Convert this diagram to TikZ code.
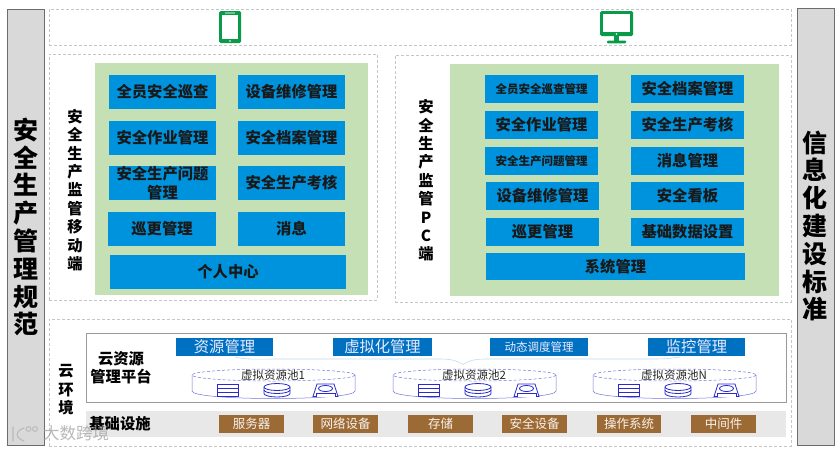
\documentclass[tikz,border=0pt]{standalone}
\usepackage{fontspec}
\setmainfont{Noto Sans CJK SC}
\definecolor{bluebox}{HTML}{0093DD}
\definecolor{greenbg}{HTML}{C5E0B4}
\definecolor{barfill}{HTML}{D9D9D9}
\definecolor{cloudblue}{HTML}{0070C0}
\definecolor{brownbox}{HTML}{9C6A35}
\definecolor{iconblue}{HTML}{2A2ACF}
\definecolor{poolline}{HTML}{6F74D8}
\definecolor{devgreen}{HTML}{0A9B4A}
\tikzset{
  x=1pt,y=-1pt,
  every node/.style={inner sep=0pt,outer sep=0pt,align=center},
  zone/.style={draw=gray!45,densely dashed,line width=.5pt},
  sidebar/.style={draw=gray!85!black,fill=barfill,line width=.8pt},
  greenpanel/.style={fill=greenbg},
  bigtxt/.style={font=\fontsize{25}{27.8}\selectfont\bfseries},
  midtxt/.style={font=\fontsize{15.3}{18.4}\selectfont\bfseries},
  smalltxt/.style={font=\fontsize{11.5}{14}\selectfont\bfseries},
  bbox/.style={fill=bluebox,text=black!90,midtxt},
  sbox/.style={fill=bluebox,text=black!90,smalltxt},
  cbar/.style={fill=cloudblue,text=blue!8!white,font=\fontsize{15.3}{18}\selectfont},
  csbar/.style={fill=cloudblue,text=blue!8!white,font=\fontsize{11.5}{14}\selectfont},
  brownb/.style={fill=brownbox,text=white!90!brown,font=\fontsize{12.5}{15}\selectfont},
  pooltxt/.style={fill=white,text=black!85,font=\fontsize{11.5}{14}\selectfont},
  poolbody/.style={draw=poolline,line width=.5pt},
  poolrim/.style={draw=poolline,densely dashed,line width=.5pt},
  ico/.style={draw=iconblue,line width=.8pt,fill=white},
  device/.style={fill=devgreen},
}
\newcommand{\bx}[7]{\node[#2,minimum width={(#5-#3)*1pt},minimum height={(#6-#4)*1pt}] (#1) at ({(#3+#5)/2},{(#4+#6)/2}) {#7};}
\newcommand{\poolat}[3]{%
  \begin{scope}[shift={(#1,0)}]
    \draw[poolbody] (0,375) -- (0,391) .. controls (0,396) and (40,398.5) .. (81.5,398.5) .. controls (123,398.5) and (163,396) .. (163,391) -- (163,375);
    \draw[poolrim] (81.5,375) ellipse [x radius=81.5,y radius=6];
    \node[pooltxt] (#2) at (81,375) {#3};
    % server
    \draw[ico] (25,384) rectangle (46,396);
    \draw[ico,line width=.6pt] (25,388) -- (46,388) (25,392) -- (46,392);
    % disk
    \draw[ico] (72,387) -- (72,393.5) arc[start angle=180,end angle=0,x radius=13,y radius=3.5] -- (98,387);
    \draw[ico] (85,387) ellipse [x radius=13,y radius=3.5];
    \draw[ico,fill=none] (72,390) arc[start angle=180,end angle=0,x radius=13,y radius=3.5];
    % router
    \draw[ico] (121,396.5) -- (125,384) -- (142,384) -- (146,396.5) -- cycle;
    \draw[ico] (133.5,388.5) ellipse [x radius=7,y radius=3];
    \draw[ico,line width=.6pt] (124,396.5) -- (124,393) -- (143,393) -- (143,396.5);
  \end{scope}}
\begin{document}
\begin{tikzpicture}
\useasboundingbox (0,0) rectangle (837,450);
% side bars
\bx{lbar}{sidebar}{7}{9}{44}{445}{}
\bx{rbar}{sidebar}{797}{8}{834}{445}{}
\node[bigtxt] (ltxt) at (26,227) {安\\全\\生\\产\\管\\理\\规\\范};
\node[bigtxt] (rtxt) at (815,226) {信\\息\\化\\建\\设\\标\\准};
% zones
\bx{ztop}{zone}{49}{9}{791}{45}{}
\bx{zleft}{zone}{49}{54}{377}{300}{}
\bx{zright}{zone}{395}{55}{791}{302}{}
\bx{zcloud}{zone}{49}{319}{791}{446}{}
% device icons
\fill[device,rounded corners=1.5pt] (219,11) rectangle (241,43);
\fill[white] (222,14.5) rectangle (238,39);
\fill[devgreen!60] (225,12.3) rectangle (235,13.5);
\fill[white] (230,41) circle (.9);
\fill[device,rounded corners=1.5pt] (600,11) rectangle (633,36);
\fill[white] (603,14) rectangle (630,32);
\fill[white] (616.5,34) circle (.9);
\fill[device] (614,36) rectangle (619,41);
\fill[device,rounded corners=1pt] (607,40.5) rectangle (626,43.3);
% mobile panel
\bx{gleft}{greenpanel}{95}{63}{368}{295}{}
\node[midtxt] (mlabel) at (75,190) {安\\全\\生\\产\\监\\管\\移\\动\\端};
\bx{m1}{bbox}{109}{75}{216}{109}{全员安全巡查}
\bx{m2}{bbox}{238}{75}{345}{109}{设备维修管理}
\bx{m3}{bbox}{109}{121}{216}{155}{安全作业管理}
\bx{m4}{bbox}{238}{121}{345}{155}{安全档案管理}
\bx{m5}{bbox}{109}{166}{216}{200}{安全生产问题\\管理}
\bx{m6}{bbox}{238}{166}{345}{200}{安全生产考核}
\bx{m7}{bbox}{108}{212}{216}{246}{巡更管理}
\bx{m8}{bbox}{238}{212}{345}{246}{消息}
\bx{m9}{bbox}{110}{255}{346}{289}{个人中心}
% pc panel
\bx{gright}{greenpanel}{450}{64}{779}{296}{}
\node[midtxt] (plabel) at (426,180.5) {安\\全\\生\\产\\监\\管\\P\\C\\端};
\bx{p1}{sbox}{485}{75}{598}{103}{全员安全巡查管理}
\bx{p2}{bbox}{631}{75}{744}{103}{安全档案管理}
\bx{p3}{bbox}{485}{111}{598}{139}{安全作业管理}
\bx{p4}{bbox}{631}{111}{744}{139}{安全生产考核}
\bx{p5}{sbox}{485}{147}{598}{175}{安全生产问题管理}
\bx{p6}{bbox}{631}{147}{744}{175}{消息管理}
\bx{p7}{bbox}{486}{182}{599}{210}{设备维修管理}
\bx{p8}{bbox}{631}{182}{744}{210}{安全看板}
\bx{p9}{bbox}{486}{218}{599}{246}{巡更管理}
\bx{p10}{bbox}{631}{218}{744}{246}{基础数据设置}
\bx{p11}{bbox}{486}{253}{745}{280}{系统管理}
% cloud
\node[midtxt] (clabel) at (66,390) {云\\环\\境};
\bx{cpanel}{draw=gray!80,line width=.6pt}{86}{333}{786}{402}{}
\node[midtxt] (cplat) at (121,368) {云资源\\管理平台};
\draw[cloudblue!25,line width=.6pt] (235,357) .. controls (245,360) and (260,359) .. (275,359) -- (440,359) .. controls (452,359) and (458,361) .. (463,364.5) .. controls (468,361) and (474,359) .. (486,359) -- (650,359) .. controls (660,359) and (668,359) .. (680,357);
\bx{c1}{cbar}{176}{338}{273}{356}{资源管理}
\bx{c2}{cbar}{333}{338}{432}{356}{虚拟化管理}
\bx{c3}{csbar}{490}{338}{588}{356}{动态调度管理}
\bx{c4}{cbar}{648}{338}{745}{356}{监控管理}
\poolat{192}{pool1}{虚拟资源池1}
\poolat{393}{pool2}{虚拟资源池2}
\poolat{593}{pool3}{虚拟资源池N}
% infrastructure
\bx{infra}{fill=black!9}{86}{411}{786}{437}{}
\node[midtxt] (ilabel) at (120,423.5) {基础设施};
\bx{b1}{brownb}{219}{415}{284}{433}{服务器}
\bx{b2}{brownb}{313}{415}{378}{433}{网络设备}
\bx{b3}{brownb}{408}{415}{473}{433}{存储}
\bx{b4}{brownb}{502}{415}{567}{433}{安全设备}
\bx{b5}{brownb}{597}{415}{661}{433}{操作系统}
\bx{b6}{brownb}{691}{415}{756}{433}{中间件}
% watermark
\node[text=gray!75,opacity=.75,font=\fontsize{16.5}{18}\selectfont] (wm) at (76,433.5) {大数跨境};
\draw[gray!60,opacity=.8,line width=1.1pt,line cap=round] (13,427) -- (13,441) (24,428) .. controls (15,431) and (15,438) .. (24,441);
\draw[gray!60,opacity=.8,line width=.9pt] (28.5,429) circle (2.4) (35,429) circle (2.4);
\end{tikzpicture}
\end{document}
